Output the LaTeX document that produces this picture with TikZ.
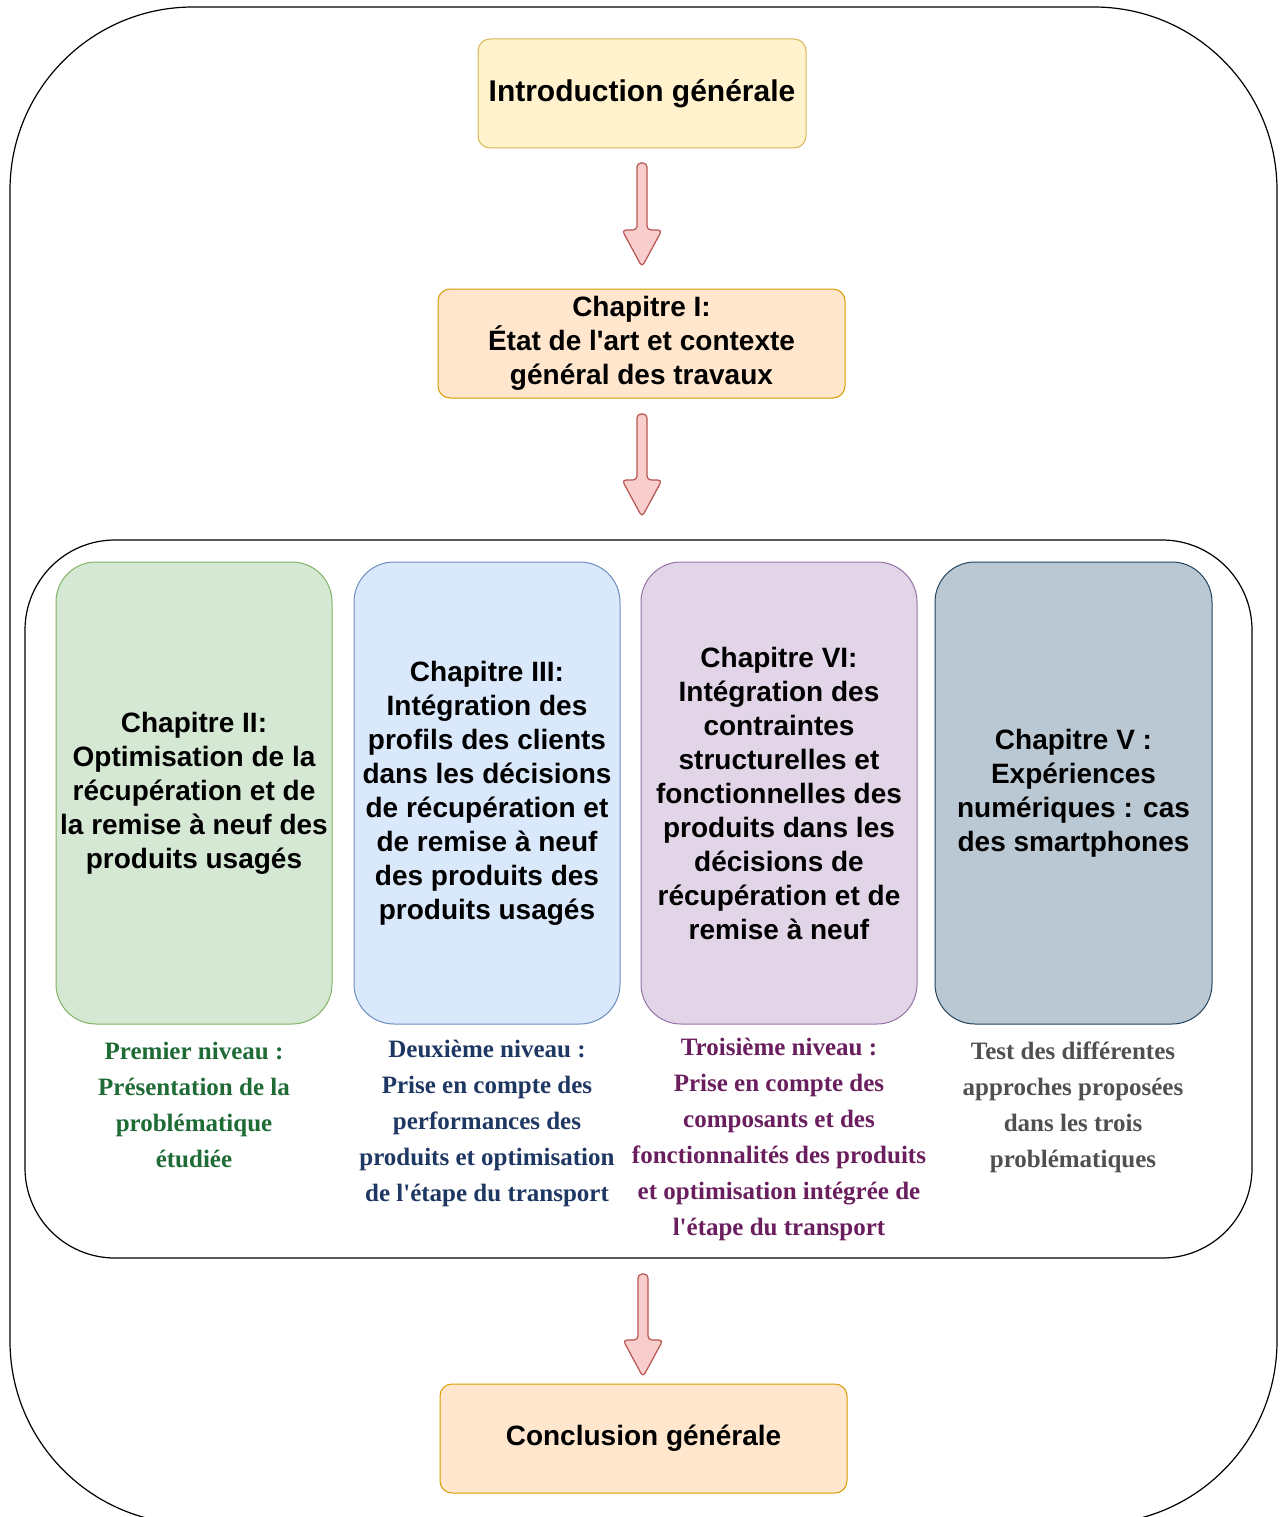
\documentclass[tikz,border=0pt]{standalone}
\usepackage{fontspec}
\setmainfont[Ligatures=TeXOff]{Liberation Serif}
\setsansfont[Ligatures=TeXOff]{Liberation Sans}
\usetikzlibrary{calc}
\definecolor{introfill}{HTML}{FFF2CC}
\definecolor{introdraw}{HTML}{D6B656}
\definecolor{orfill}{HTML}{FFE6CC}
\definecolor{ordraw}{HTML}{D79B00}
\definecolor{arrfill}{HTML}{F8CECC}
\definecolor{arrdraw}{HTML}{B85450}
\definecolor{gfill}{HTML}{D5E8D4}
\definecolor{gdraw}{HTML}{82B366}
\definecolor{bfill}{HTML}{DAE8FC}
\definecolor{bdraw}{HTML}{6C8EBF}
\definecolor{pfill}{HTML}{E1D5E7}
\definecolor{pdraw}{HTML}{9673A6}
\definecolor{sfill}{HTML}{BAC8D3}
\definecolor{sdraw}{HTML}{23445D}
\definecolor{gtext}{HTML}{1E6B35}
\definecolor{btext}{HTML}{1F3763}
\definecolor{ptext}{HTML}{6A1E5E}
\definecolor{stext}{HTML}{505050}
\tikzset{
  topbox/.style={draw=#1, line width=1pt, rounded corners=12pt, minimum width=407pt, minimum height=109pt, align=center, inner sep=0pt,
    font=\sffamily\bfseries\fontsize{28}{34}\selectfont},
  chapbox/.style={line width=1pt, rounded corners=40pt, minimum height=462pt, align=center, inner sep=0pt,
    font=\sffamily\bfseries\fontsize{28}{34}\selectfont},
  levtext/.style={align=center, inner sep=0pt, font=\rmfamily\bfseries\fontsize{25}{36}\selectfont},
  fatarrow/.style={draw=arrdraw, fill=arrfill, line width=1.2pt, rounded corners=4pt, line join=round},
  frame/.style={draw=black, line width=1.2pt}
}
\newcommand{\bigarrow}[2]{%
  \draw[fatarrow] ($(#1)+(-5,0)$) -- ($(#2)+(-5,-37)$) -- ($(#2)+(-20,-37)$) -- (#2) -- ($(#2)+(20,-37)$) -- ($(#2)+(5,-37)$) -- ($(#1)+(5,0)$) -- cycle;}
\begin{document}
\begin{tikzpicture}[x=1pt,y=-1pt]
\useasboundingbox (0,0) rectangle (1283,1517);
% frames
\draw[frame, rounded corners=183pt] (10,7) rectangle (1277,1524);
\draw[frame, rounded corners=90pt] (25,540) rectangle (1252,1258);
% top boxes
\node[topbox=introdraw, fill=introfill, minimum width=328pt, font=\sffamily\bfseries\fontsize{30}{34}\selectfont] (intro) at (642,93.5) {Introduction générale};
\node[topbox=ordraw, fill=orfill] (ch1) at (641.5,343.5) {Chapitre I:\\État de l'art et contexte\\général des travaux};
\node[topbox=ordraw, fill=orfill] (concl) at (643.5,1438.5) {Conclusion générale};
% chapter boxes
\node[chapbox, draw=gdraw, fill=gfill, minimum width=276pt] (ch2) at (194,793) {Chapitre II:\\Optimisation de la\\récupération et de\\la remise à neuf des\\produits usagés};
\node[chapbox, draw=bdraw, fill=bfill, minimum width=266pt] (ch3) at (487,793) {Chapitre III:\\Intégration des\\profils des clients\\dans les décisions\\de récupération et\\de remise à neuf\\des produits des\\produits usagés};
\node[chapbox, draw=pdraw, fill=pfill, minimum width=276pt] (ch6) at (779,793) {Chapitre VI:\\Intégration des\\contraintes\\structurelles et\\fonctionnelles des\\produits dans les\\décisions de\\récupération et de\\remise à neuf};
\node[chapbox, draw=sdraw, fill=sfill, minimum width=277pt] (ch5) at (1073.5,793) {Chapitre V :\\Expériences\\numériques : cas\\des smartphones};
% level texts
\node[levtext, text=gtext] (lev1) at (194,1105) {Premier niveau :\\Présentation de la\\problématique\\étudiée};
\node[levtext, text=btext] (lev2) at (487,1123) {Deuxième niveau :\\Prise en compte des\\performances des\\produits et optimisation\\de l'étape du transport};
\node[levtext, text=ptext] (lev3) at (779,1139) {Troisième niveau :\\Prise en compte des\\composants et des\\fonctionnalités des produits\\et optimisation intégrée de\\l'étape du transport};
\node[levtext, text=stext] (lev4) at (1073,1107) {Test des différentes\\approches proposées\\dans les trois\\problématiques};
% arrows
\coordinate (a1s) at (642,163);
\coordinate (a1e) at (642,267);
\coordinate (a2s) at (642,414);
\coordinate (a2e) at (642,517);
\coordinate (a3s) at (643,1274);
\coordinate (a3e) at (643,1377);
\bigarrow{a1s}{a1e}
\bigarrow{a2s}{a2e}
\bigarrow{a3s}{a3e}
\end{tikzpicture}
\end{document}
